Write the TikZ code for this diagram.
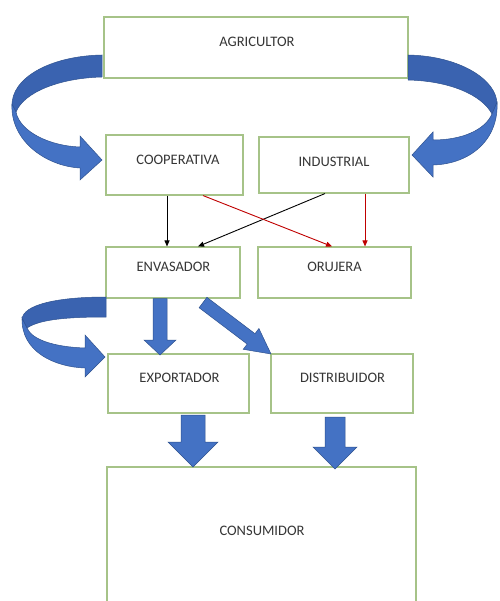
\documentclass[tikz,border=0pt]{standalone}
\usepackage{fontspec}
\setmainfont{Carlito}
\usetikzlibrary{arrows.meta}
\definecolor{boxline}{HTML}{A6C388}
\definecolor{txt}{HTML}{363636}
\definecolor{blueA}{HTML}{4472C4}
\definecolor{blueD}{HTML}{3A63B0}
\definecolor{blueB}{HTML}{2F528F}
\definecolor{redA}{HTML}{C00000}
\tikzset{
  box/.style={draw=boxline, line width=1.1pt, fill=white, inner sep=0pt},
  lbl/.style={text=txt, font=\fontsize{14.5}{17}\selectfont},
  thin/.style={line width=0.9pt, -{Triangle[length=6pt,width=5pt]}},
  blockfront/.style={fill=blueA, draw=blueB, line width=0.5pt, line join=miter},
  blockback/.style={fill=blueD, draw=blueB, line width=0.5pt},
}
\begin{document}
\begin{tikzpicture}[x=1pt,y=-1pt]
\useasboundingbox (0,0) rectangle (499,601);
\fill[white] (0,0) rectangle (499,601);
\clip (0,0) rectangle (499,601);

% boxes
\node[box, minimum width=304pt, minimum height=61pt,
  label={[lbl, yshift=5.5pt, xshift=1pt]center:AGRICULTOR}] (agri) at (256,47.5) {};
\node[box, minimum width=137pt, minimum height=60pt,
  label={[lbl, yshift=5pt, xshift=3.5pt]center:COOPERATIVA}] (coop) at (174.5,165) {};
\node[box, minimum width=150pt, minimum height=56pt,
  label={[lbl, yshift=3pt]center:INDUSTRIAL}] (ind) at (334,165) {};
\node[box, minimum width=134pt, minimum height=51pt,
  label={[lbl, yshift=5.5pt, xshift=0.5pt]center:ENVASADOR}] (env) at (173,272.5) {};
\node[box, minimum width=153pt, minimum height=51pt,
  label={[lbl, yshift=5.5pt]center:ORUJERA}] (oru) at (334.5,272.5) {};
\node[box, minimum width=141pt, minimum height=59pt,
  label={[lbl, yshift=5.5pt, xshift=1pt]center:EXPORTADOR}] (exp) at (178.5,383.5) {};
\node[box, minimum width=142pt, minimum height=59pt,
  label={[lbl, yshift=5.5pt, xshift=0.5pt]center:DISTRIBUIDOR}] (dist) at (342,383.5) {};
\node[box, minimum width=309pt, minimum height=160pt] (cons) at (261.5,547) {};
\node[lbl] (constxt) at (262,531) {CONSUMIDOR};

% thin connectors
\draw[thin, black] ([xshift=-7.5pt]coop.south) -- ([xshift=-6pt]env.north);
\draw[thin, black] ([xshift=-9pt]ind.south) -- ([xshift=25pt]env.north);
\draw[thin, redA] ([xshift=28.5pt]coop.south) -- ([xshift=-2.5pt]oru.north);
\draw[thin, redA] ([xshift=31pt]ind.south) -- ([xshift=30.5pt]oru.north);

% curved arrow: agricultor -> cooperativa
\draw[blockback] (102,55) .. controls (50,56) and (11,78) .. (12,106) -- (16,112)
  .. controls (24,92) and (60,78) .. (102,77) -- cycle;
\draw[blockfront] (12,104) .. controls (10,140) and (45,166) .. (80,168) -- (80,180)
  -- (102,160) -- (80,136) -- (80,147) .. controls (50,146) and (20,132) .. (16,112) -- cycle;

% curved arrow: agricultor -> industrial
\draw[blockback] (408,55) .. controls (460,56) and (497,80) .. (497,104) -- (492,114)
  .. controls (482,95) and (450,81) .. (408,80) -- cycle;
\draw[blockfront] (497,102) .. controls (499,140) and (470,164) .. (433,165) -- (433,177)
  -- (412,155) -- (433,132) -- (433,140) .. controls (462,140) and (485,130) .. (492,114) -- cycle;

% curved arrow: envasador -> exportador
\draw[blockback] (106,297) .. controls (60,297) and (22,304) .. (22,320) -- (27,328)
  .. controls (40,319) and (70,317) .. (106,317) -- cycle;
\draw[blockfront] (22,318) .. controls (21,352) and (55,367) .. (85,368) -- (85,377)
  -- (105,357) -- (85,335) -- (85,348) .. controls (55,347) and (32,340) .. (27,328) -- cycle;

% straight block arrow envasador -> exportador
\draw[blockfront] (153,298.5) -- (167,298.5) -- (167,340) -- (176,340) -- (160,355)
  -- (144,340) -- (153,340) -- cycle;

% diagonal block arrow envasador -> distribuidor
\draw[blockfront] (199.1,307.7) -- (206.9,297.3) -- (255.0,333.7) -- (258.9,328.5)
  -- (271,354) -- (243.2,349.3) -- (247.2,344.1) -- cycle;

% block arrows to consumidor
\draw[blockfront] (181,415) -- (205,415) -- (205,442) -- (218,442) -- (193,467)
  -- (168,442) -- (181,442) -- cycle;
\draw[blockfront] (325,417) -- (345,417) -- (345,447) -- (357,447) -- (335,469)
  -- (313,447) -- (325,447) -- cycle;
\end{tikzpicture}
\end{document}
